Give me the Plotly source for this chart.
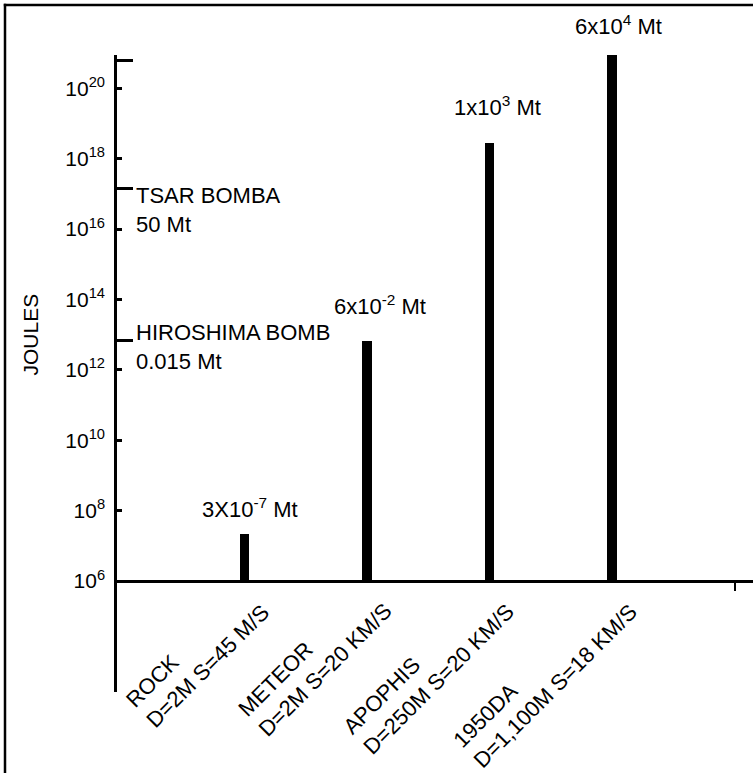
import math
import plotly.graph_objects as go

# ---------------- data ----------------
categories = ["ROCK<br>D=2M S=45 M/S",
              "METEOR<br>D=2M S=20 KM/S",
              "APOPHIS<br>D=250M S=20 KM/S",
              "1950DA<br>D=1,100M S=18 KM/S"]
category_positions = [1, 2, 3, 4]
energy_joules = [2.1e7, 6.6e12, 2.8e18, 8.7e20]
energy_labels = ["3X10<sup>-7</sup> Mt", "6x10<sup>-2</sup> Mt",
                 "1x10<sup>3</sup> Mt", "6x10<sup>4</sup> Mt"]
reference_names = ["TSAR BOMBA<br>50 Mt", "HIROSHIMA BOMB<br>0.015 Mt"]
reference_joules = [1.43e17, 6.6e12]
ytick_values = [1e6, 1e8, 1e10, 1e12, 1e14, 1e16, 1e18, 1e20]
ytick_labels = ["10<sup>6</sup>", "10<sup>8</sup>", "10<sup>10</sup>", "10<sup>12</sup>",
                "10<sup>14</sup>", "10<sup>16</sup>", "10<sup>18</sup>", "10<sup>20</sup>"]
bar_base = 1e6
axis_cap_joules = 6.3e20

# ---------------- layout geometry / styles ----------------
W, H = 753, 773
L, R, T, B = 117, 0, 55, 81
PW, PH = W - L - R, H - T - B
FONT = "Liberation Sans, Arial, Helvetica, sans-serif"

def px_x(p):
    return (p - L) / PW

def px_y(p):
    return (H - B - p) / PH

value_label_xshift = [5.5, 13, 8.5, 6.5]
value_label_yshift = [10, 19.5, 20.5, 14.5]
reference_label_yshift = [7, 23]

fig = go.Figure()
fig.add_trace(go.Bar(
    x=category_positions,
    y=[v - bar_base for v in energy_joules],
    base=bar_base,
    width=0.0775,
    marker=dict(color="black", line=dict(width=0)),
    showlegend=False,
    hoverinfo="skip",
))

annotations = []
for i, (pos, val, lab) in enumerate(zip(category_positions, energy_joules, energy_labels)):
    annotations.append(dict(
        x=pos, y=math.log10(val), xref="x", yref="y", text=lab, showarrow=False,
        xanchor="center", yanchor="bottom",
        xshift=value_label_xshift[i], yshift=value_label_yshift[i],
        font=dict(family=FONT, size=22, color="black")))

for pos, cat in zip(category_positions, categories):
    annotations.append(dict(
        x=pos, y=math.log10(bar_base), xref="x", yref="y", text=cat, showarrow=False,
        textangle=-45, align="left", xanchor="right", yanchor="top",
        xshift=33, yshift=5,
        font=dict(family=FONT, size=22, color="black")))

for i, (name, val) in enumerate(zip(reference_names, reference_joules)):
    annotations.append(dict(
        x=px_x(134), y=math.log10(val), xref="paper", yref="y", text=name, showarrow=False,
        align="left", xanchor="left", yanchor="top", yshift=reference_label_yshift[i],
        font=dict(family=FONT, size=22, color="black")))

annotations.append(dict(
    x=px_x(30), y=px_y(334.5), xref="paper", yref="paper", text="JOULES", showarrow=False,
    textangle=-90, xanchor="center", yanchor="middle",
    font=dict(family=FONT, size=21, color="black")))

frame_line = dict(color="black", width=2.5)
shapes = [
    # outer frame: only the left and top sides fall inside the picture
    dict(type="line", xref="paper", yref="paper",
         x0=px_x(5), x1=px_x(5), y0=px_y(780), y1=px_y(3.8), line=frame_line, layer="above"),
    dict(type="line", xref="paper", yref="paper",
         x0=px_x(3.8), x1=px_x(760), y0=px_y(5), y1=px_y(5), line=frame_line, layer="above"),
]

fig.update_layout(
    width=W, height=H,
    margin=dict(l=L, r=R, t=T, b=B, pad=0),
    paper_bgcolor="white", plot_bgcolor="white",
    bargap=0,
    annotations=annotations,
    shapes=shapes,
    xaxis=dict(
        range=[(L - 121.7) / 122.56, (W - R - 121.7) / 122.56],
        anchor="free", position=(H - B - 581) / PH,
        showline=True, linecolor="black", linewidth=2.5,
        ticks="outside", tickmode="array", tickvals=[5], ticklen=8, tickwidth=1.5,
        tickcolor="black", showticklabels=False,
        showgrid=False, zeroline=False, fixedrange=True,
    ),
    yaxis=dict(
        type="log",
        range=[6 - 111 / 35.2, 6 + (581 - T) / 35.2],
        showline=True, linecolor="black", linewidth=2.5,
        ticks="inside", tickmode="array", tickvals=ytick_values, ticktext=ytick_labels,
        ticklen=5, tickwidth=2.5, tickcolor="black",
        ticklabelstandoff=5,
        tickfont=dict(family=FONT, size=21, color="black"),
        minor=dict(tickmode="array", tickvals=reference_joules + [axis_cap_joules],
                   ticks="inside", ticklen=16, tickwidth=2.5, tickcolor="black",
                   showgrid=False),
        showgrid=False, zeroline=False, fixedrange=True,
    ),
)

fig.write_html("out.html", config={"displayModeBar": False},
               post_script="document.body.style.margin='0px';document.body.style.overflow='hidden';")
